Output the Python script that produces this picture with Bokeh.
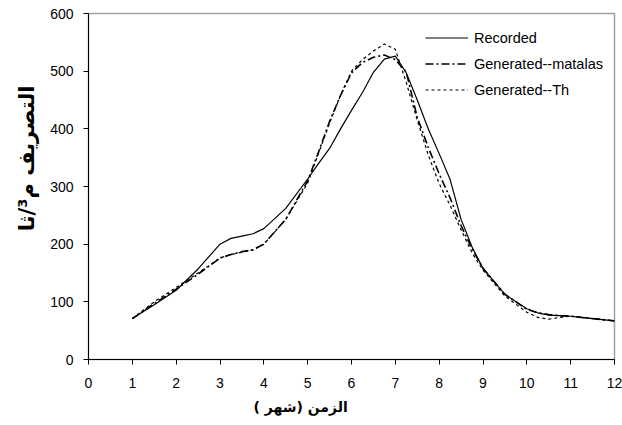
from bokeh.plotting import figure
from bokeh.models import Range1d, FixedTicker, Legend, LegendItem, Title
from bokeh.embed import file_html
from bokeh.resources import INLINE

# month positions (x) and discharge values (m3/s)
months = [1, 1.5, 2, 2.5, 3, 3.25, 3.5, 3.75, 4, 4.5, 5, 5.25, 5.5, 5.75, 6, 6.25, 6.5, 6.75,
          7, 7.25, 7.5, 7.75, 8, 8.25, 8.5, 8.75, 9, 9.5, 10, 10.25, 10.5, 10.75, 11, 11.5, 12]

recorded = [71, 95, 120, 157, 200, 210, 214, 218, 227, 262, 313, 340, 366, 400, 432, 463, 498, 521,
            526, 497, 450, 400, 357, 312, 243, 195, 158, 113, 88, 81, 77, 76, 75, 71, 67]

gen_matalas = [71, 97, 122, 148, 176, 182, 187, 190, 200, 243, 310, 360, 413, 458, 497, 515, 524, 528,
               520, 498, 420, 368, 322, 280, 232, 192, 158, 113, 87, 81, 78, 76, 75, 71, 67]

gen_th = [71, 100, 125, 150, 176, 182, 186, 190, 200, 243, 306, 358, 410, 458, 500, 520, 535, 547,
          538, 480, 415, 355, 305, 267, 225, 185, 155, 110, 82, 73, 70, 73, 75, 71, 67]

x_ticks = list(range(0, 13))
y_ticks = [0, 100, 200, 300, 400, 500, 600]
series_names = ["Recorded", "Generated--matalas", "Generated--Th"]
x_title = "الزمن (شهر )"
y_title = "التصريف م³/ثا"

p = figure(width=622, height=425, output_backend="svg", toolbar_location=None,
           x_range=Range1d(0, 12), y_range=Range1d(0, 600),
           min_border_left=88, min_border_right=8, min_border_top=13, min_border_bottom=66)

p.background_fill_color = "white"
p.border_fill_color = "white"
p.outline_line_color = "#a0a0a0"
p.outline_line_width = 1.5
p.xgrid.visible = False
p.ygrid.visible = False

for ax in (p.xaxis[0], p.yaxis[0]):
    ax.axis_line_color = "black"
    ax.axis_line_width = 1
    ax.major_tick_line_color = "black"
    ax.major_tick_in = 0
    ax.major_tick_out = 5
    ax.minor_tick_line_color = None
    ax.major_label_text_font = "Liberation Sans"
    ax.major_label_text_font_size = "14px"
    ax.major_label_text_color = "black"

p.xaxis.ticker = FixedTicker(ticks=x_ticks)
p.yaxis.ticker = FixedTicker(ticks=y_ticks)
p.xaxis.major_label_standoff = 13
p.yaxis.major_label_standoff = 10

# axis titles, offset along the axes as in the original
p.add_layout(Title(text=x_title, align="left", offset=165, standoff=12,
                   text_font="DejaVu Sans", text_font_style="bold", text_font_size="14px",
                   text_color="black"), "below")
p.add_layout(Title(text=y_title, align="right", offset=72, standoff=17,
                   text_font="DejaVu Sans", text_font_style="bold", text_font_size="21px",
                   text_color="black"), "left")

r1 = p.line(months, recorded, line_color="black", line_width=1.2)
r2 = p.line(months, gen_matalas, line_color="black", line_width=1.6, line_dash="8 3 2 3")
r3 = p.line(months, gen_th, line_color="black", line_width=1.2, line_dash="3 3")

legend = Legend(items=[LegendItem(label=series_names[0], renderers=[r1]),
                       LegendItem(label=series_names[1], renderers=[r2]),
                       LegendItem(label=series_names[2], renderers=[r3])],
                location=(337, 258))
legend.padding = 0
legend.margin = 0
legend.spacing = 3
legend.glyph_width = 43
legend.glyph_height = 23
legend.label_height = 23
legend.label_standoff = 6
legend.label_text_font = "Liberation Sans"
legend.label_text_font_size = "14.5px"
legend.label_text_color = "black"
legend.border_line_color = None
legend.background_fill_alpha = 0
p.add_layout(legend)

open("out.html", "w").write(file_html(p, INLINE))
